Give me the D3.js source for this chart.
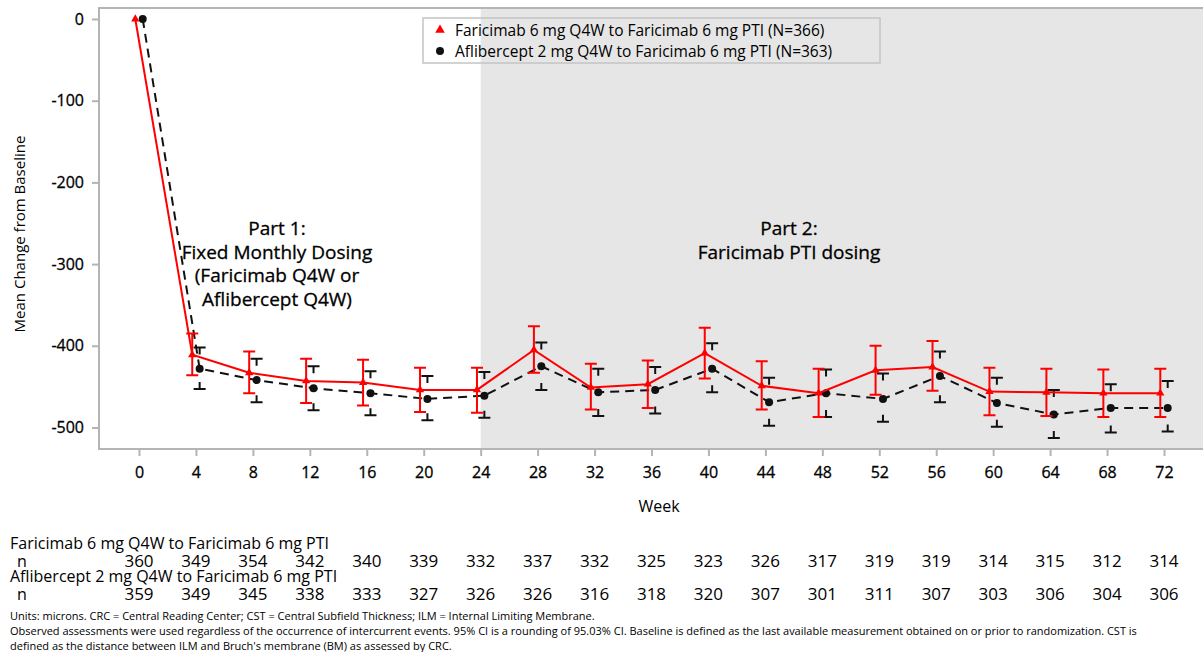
<!DOCTYPE html>
<html>
<head>
<meta charset="utf-8">
<script src="https://cdn.jsdelivr.net/npm/d3@7"></script>
<style>
  body { margin: 0; background: #fff; }
  text { font-family: "Open Sans", "Noto Sans", sans-serif; fill: #000; }
</style>
</head>
<body>
<svg id="chart" width="1203" height="652"></svg>
<script>
const weeks = [0, 4, 8, 12, 16, 20, 24, 28, 32, 36, 40, 44, 48, 52, 56, 60, 64, 68, 72]

const farMean = [0, -411, -433, -443, -445, -454, -454, -405, -451, -447, -409, -449, -458, -430, -426, -456, -457, -458, -458]
const farLo = [null, -436, -458, -470, -473, -481, -482, -433, -478, -476, -440, -478, -487, -460, -455, -485, -486, -487, -487]
const farHi = [null, -385, -407, -416, -417, -427, -427, -376, -422, -418, -378, -419, -428, -400, -394, -427, -428, -429, -428]

const aflMean = [0, -428, -442, -452, -458, -465, -461, -425, -457, -454, -428, -469, -458, -465, -437, -470, -484, -476, -476]
const aflLo = [null, -453, -469, -479, -485, -491, -488, -454, -486, -483, -457, -498, -487, -493, -469, -499, -513, -506, -505]
const aflHi = [null, -402, -416, -425, -431, -437, -432, -396, -428, -426, -397, -439, -429, -434, -407, -439, -454, -447, -443]

const farN = [360, 349, 354, 342, 340, 339, 332, 337, 332, 325, 323, 326, 317, 319, 319, 314, 315, 312, 314]
const aflN = [359, 349, 345, 338, 333, 327, 326, 326, 316, 318, 320, 307, 301, 311, 307, 303, 306, 304, 306]

const yTicks = [0, -100, -200, -300, -400, -500]
const partStart = 24

const legendLabels = [
  'Faricimab 6 mg Q4W to Faricimab 6 mg PTI (N=366)',
  'Aflibercept 2 mg Q4W to Faricimab 6 mg PTI (N=363)'
]
const rowLabels = [
  'Faricimab 6 mg Q4W to Faricimab 6 mg PTI',
  'Aflibercept 2 mg Q4W to Faricimab 6 mg PTI'
]
const footnotes = [
  'Units: microns. CRC = Central Reading Center; CST = Central Subfield Thickness; ILM = Internal Limiting Membrane.',
  'Observed assessments were used regardless of the occurrence of intercurrent events. 95% CI is a rounding of 95.03% CI. Baseline is defined as the last available measurement obtained on or prior to randomization. CST is',
  "defined as the distance between ILM and Bruch's membrane (BM) as assessed by CRC."
]

const svg = d3.select('#chart')
const frame = { left: 99, right: 1203, top: 8, bottom: 449 }
const dodge = 0.26

const x = d3.scaleLinear().domain([0, 72]).range([139, 1164])
const y = d3.scaleLinear().domain([0, -500]).range([19, 427.5])

// part 2 shading
svg.append('rect')
  .attr('x', x(partStart)).attr('y', frame.top)
  .attr('width', frame.right - x(partStart)).attr('height', frame.bottom - frame.top)
  .attr('fill', '#e6e6e6')

// frame lines
const axisGrey = '#b4b4b4'
svg.append('path')
  .attr('d', `M${frame.right},${frame.top}H${frame.left}V${frame.bottom}H${frame.right}`)
  .attr('fill', 'none').attr('stroke', axisGrey).attr('stroke-width', 2)

const plainInt = d => String(d)

const xAxis = d3.axisBottom(x).tickValues(weeks).tickSize(7).tickPadding(11).tickFormat(plainInt)
const gx = svg.append('g').attr('transform', `translate(0,${frame.bottom})`).call(xAxis)
gx.select('.domain').remove()
gx.selectAll('.tick line').attr('stroke', axisGrey).attr('stroke-width', 2)
gx.selectAll('.tick text').style('font-size', '16px').style('font-family', '"Open Sans", sans-serif')
  .style('fill', '#000').style('stroke', '#000').style('stroke-width', 0.3)

const yAxis = d3.axisLeft(y).tickValues(yTicks).tickSize(7).tickPadding(8).tickFormat(plainInt)
const gy = svg.append('g').attr('transform', `translate(${frame.left},0)`).call(yAxis)
gy.select('.domain').remove()
gy.selectAll('.tick line').attr('stroke', axisGrey).attr('stroke-width', 2)
gy.selectAll('.tick text').style('font-size', '16px').style('font-family', '"Open Sans", sans-serif')
  .style('fill', '#000').style('stroke', '#000').style('stroke-width', 0.3)

svg.append('text')
  .attr('transform', 'translate(25,234) rotate(-90)')
  .attr('text-anchor', 'middle')
  .style('font-size', '15px')
  .text('Mean Change from Baseline')

svg.append('text')
  .attr('x', 659).attr('y', 512)
  .attr('text-anchor', 'middle')
  .style('font-size', '16px')
  .text('Week')

// part annotations
const part1 = ['Part 1:', 'Fixed Monthly Dosing', '(Faricimab Q4W or', 'Aflibercept Q4W)']
const part2 = ['Part 2:', 'Faricimab PTI dosing']
svg.append('text').attr('text-anchor', 'middle').style('font-size', '19px')
  .style('stroke', '#000').style('stroke-width', 0.3)
  .selectAll('tspan').data(part1).join('tspan')
  .attr('x', 277).attr('y', (d, i) => 235 + i * 23.5).text(d => d)
svg.append('text').attr('text-anchor', 'middle').style('font-size', '19px')
  .style('stroke', '#000').style('stroke-width', 0.3)
  .selectAll('tspan').data(part2).join('tspan')
  .attr('x', 789).attr('y', (d, i) => 235 + i * 23.5).text(d => d)

const idx = d3.range(weeks.length)
const capW = 6

// black (aflibercept) whiskers: cap plus short stem at each end
const black = '#111'
const gb = svg.append('g').attr('stroke', black).attr('stroke-width', 2).attr('fill', 'none')
idx.filter(i => aflLo[i] !== null).forEach(i => {
  const cx = x(weeks[i] + dodge)
  gb.append('path').attr('d', `M${cx - capW},${y(aflHi[i])}H${cx + capW}M${cx},${y(aflHi[i])}v7`)
  gb.append('path').attr('d', `M${cx - capW},${y(aflLo[i])}H${cx + capW}M${cx},${y(aflLo[i])}v-7`)
})

const aflLine = d3.line().x(i => x(weeks[i] + dodge)).y(i => y(aflMean[i]))
svg.append('path').datum(idx).attr('d', aflLine)
  .attr('fill', 'none').attr('stroke', black).attr('stroke-width', 2)
  .attr('stroke-dasharray', '9,6')

svg.append('g').selectAll('circle').data(idx).join('circle')
  .attr('cx', i => x(weeks[i] + dodge)).attr('cy', i => y(aflMean[i]))
  .attr('r', 4).attr('fill', black)

// red (faricimab) error bars
const red = '#ff0000'
const gr = svg.append('g').attr('stroke', red).attr('stroke-width', 2).attr('fill', 'none')
idx.filter(i => farLo[i] !== null).forEach(i => {
  const cx = x(weeks[i] - dodge)
  gr.append('path').attr('d',
    `M${cx - capW},${y(farHi[i])}H${cx + capW}M${cx},${y(farHi[i])}V${y(farLo[i])}M${cx - capW},${y(farLo[i])}H${cx + capW}`)
})

const farLine = d3.line().x(i => x(weeks[i] - dodge)).y(i => y(farMean[i]))
svg.append('path').datum(idx).attr('d', farLine)
  .attr('fill', 'none').attr('stroke', red).attr('stroke-width', 2)

const tri = d3.symbol().type(d3.symbolTriangle).size(30)
svg.append('g').selectAll('path').data(idx).join('path')
  .attr('d', tri)
  .attr('transform', i => `translate(${x(weeks[i] - dodge)},${y(farMean[i])})`)
  .attr('fill', red)

// legend
const lg = svg.append('g')
lg.append('rect').attr('x', 423).attr('y', 18).attr('width', 457).attr('height', 45)
  .attr('fill', 'none').attr('stroke', '#c4c4c4').attr('stroke-width', 1.5)
lg.append('path').attr('d', d3.symbol().type(d3.symbolTriangle).size(40))
  .attr('transform', 'translate(440,30)').attr('fill', red)
lg.append('circle').attr('cx', 440).attr('cy', 51).attr('r', 4).attr('fill', black)
lg.selectAll('text').data(legendLabels).join('text')
  .attr('x', 455).attr('y', (d, i) => 36 + i * 21)
  .style('font-size', '15.5px').text(d => d)

// n-at-risk table
const rows = [farN, aflN]
rows.forEach((vals, r) => {
  const base = 549 + r * 33
  svg.append('text').attr('x', 10).attr('y', base).style('font-size', '16px').text(rowLabels[r])
  svg.append('text').attr('x', 17).attr('y', base + 18).style('font-size', '16px').text('n')
  svg.append('g').selectAll('text').data(vals).join('text')
    .attr('x', (d, i) => x(weeks[i])).attr('y', base + 18)
    .attr('text-anchor', 'middle').style('font-size', '17px')
    .text(d => d)
})

svg.append('g').selectAll('text').data(footnotes).join('text')
  .attr('x', 10).attr('y', (d, i) => 620 + i * 15)
  .style('font-size', '11px').style('font-family', '"Liberation Sans Narrow", "Open Sans", sans-serif')
  .text(d => d)
</script>
</body>
</html>
